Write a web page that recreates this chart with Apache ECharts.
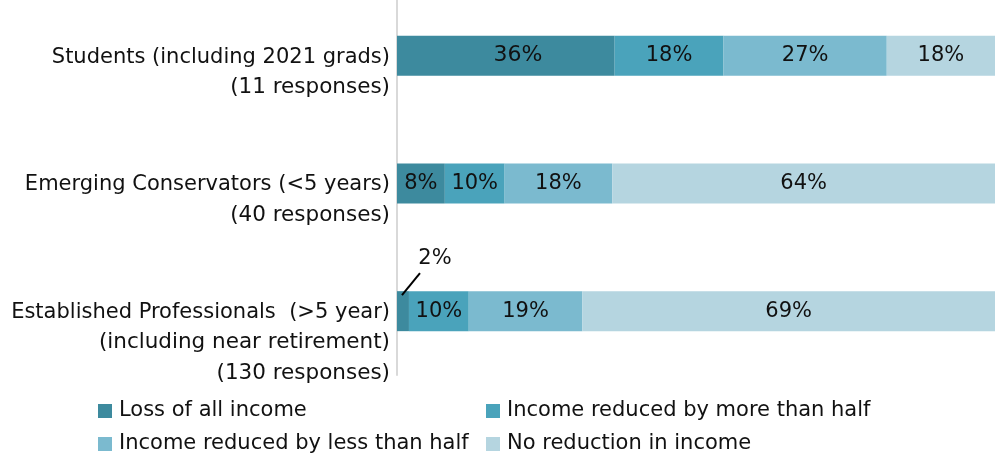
<!DOCTYPE html>
<html><head><meta charset="utf-8">
<script src="https://cdn.jsdelivr.net/npm/echarts@6/dist/echarts.min.js"></script>
<style>html,body{margin:0;padding:0;background:#fff}#c{width:999px;height:462px}</style>
</head><body><div id="c"></div>
<script>
const categories = [
  "Students (including 2021 grads)\n(11 responses)",
  "Emerging Conservators (<5 years)\n(40 responses)",
  "Established Professionals  (>5 year)\n(including near retirement)\n(130 responses)"
];
const seriesNames = ["Loss of all income","Income reduced by more than half","Income reduced by less than half","No reduction in income"];
const lossAll   = [36.4, 8, 2];
const moreHalf  = [18.2, 10, 10];
const lessHalf  = [27.3, 18, 19];
const noReduct  = [18.2, 64, 69];
const colors = ["#3d8a9e","#4aa3bb","#7bbacf","#b5d5e0"];
const FONT = "DejaVu Sans";

function catLabel(v) {
  const lines = v.split('\n');
  return lines.map((l, i) => i === 0 ? '{a|' + l + '}' : '{b|' + l + '}').join('\n');
}

const chart = echarts.init(document.getElementById('c'));
const mk = (name, data, i) => ({
  name, type:'bar', stack:'t', barWidth:40, data: data.map((v, j) => {
    if (i === 0 && j === 2) {
      return {value:v, label:{show:true, position:'top', distance:0}};
    }
    if (i === 0 && j === 0) {
      return {value:v, label:{fontSize:22}};
    }
    return v;
  }),
  itemStyle:{color:colors[i]},
  label:{show:true, position:'inside', color:'#111', fontFamily:FONT, fontSize:21,
         formatter: p => Math.round(p.value) + '%'},
  labelLayout: i === 0 ? function(params){
      if (params.dataIndex === 2) return {x: params.rect.x + 38, y: params.rect.y - 33, align:'center', verticalAlign:'middle'};
      if (params.dataIndex === 0) return {dx: 12, dy: -1};
      return {};
  } : undefined,
  emphasis:{disabled:true}
});
chart.setOption({
  animation:false,
  textStyle:{fontFamily:FONT},
  grid:{left:397, right:4, top:-8, bottom:87, outerBoundsMode:'none', containLabel:false},
  xAxis:{type:'value', min:0, max:100, show:false},
  yAxis:{type:'category', inverse:true, data:categories,
    axisLine:{show:true, lineStyle:{color:'#d9d9d9', width:2}},
    axisTick:{show:false},
    axisLabel:{fontFamily:FONT, fontSize:21, color:'#111', lineHeight:30.5, margin:7,
      align:'right', verticalAlign:'top', padding:[-14,0,0,0],
      formatter: catLabel,
      rich:{
        a:{fontFamily:FONT, fontSize:21, color:'#111', lineHeight:30.5},
        b:{fontFamily:FONT, fontSize:21.5, color:'#111', lineHeight:30.5}
      }}
  },
  legend:[
    {data:[seriesNames[0], seriesNames[2]], orient:'vertical', left:93, top:395, itemWidth:14, itemHeight:14, itemGap:11,
     icon:'rect', textStyle:{fontFamily:FONT, fontSize:21, lineHeight:22, color:'#111', padding:[0,0,0,2]}},
    {data:[seriesNames[1], seriesNames[3]], orient:'vertical', left:481, top:395, itemWidth:14, itemHeight:14, itemGap:11,
     icon:'rect', textStyle:{fontFamily:FONT, fontSize:21, lineHeight:22, color:'#111', padding:[0,0,0,2]}}
  ],
  series:[mk(seriesNames[0], lossAll, 0), mk(seriesNames[1], moreHalf, 1), mk(seriesNames[2], lessHalf, 2), mk(seriesNames[3], noReduct, 3)]
});
// leader line for the small 2% segment, anchored via the chart's own scales
const mid = chart.convertToPixel({gridIndex:0}, [lossAll[2] / 2, 2]);
chart.setOption({graphic:[{type:'line', silent:true, z:100,
  shape:{x1: mid[0] - 1, y1: mid[1] - 16, x2: mid[0] + 17, y2: mid[1] - 38},
  style:{stroke:'#000', lineWidth:2}}]});
</script></body></html>
